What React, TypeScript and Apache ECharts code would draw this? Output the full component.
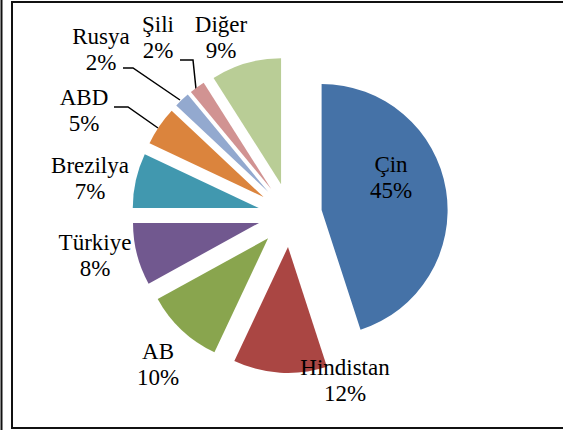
import React, { useEffect, useRef } from "react";
import * as echarts from "echarts";

const categories = ["Çin", "Hindistan", "AB", "Türkiye", "Brezilya", "ABD", "Rusya", "Şili", "Diğer"];
const values = [45, 12, 10, 8, 7, 5, 2, 2, 9];
const colors = ["#4572A7", "#AA4643", "#89A54E", "#71588F", "#4198AF", "#DB843D", "#93A9CF", "#D19392", "#B9CD96"];

// label centres (layout, px)
const labelPos: [number, number][] = [
  [391, 177], [345, 380], [158, 364], [95, 255], [90, 178], [84, 110], [101, 49], [158, 37], [221, 37],
];
// leader lines (layout, px)
const leaders: [number, number][][] = [
  [[114, 107], [128, 107], [158, 128]],
  [[123, 68], [133, 68], [180, 100]],
  [[180, 60], [193, 60], [196, 89]],
];

export default function App() {
  const ref = useRef<HTMLDivElement>(null);
  useEffect(() => {
    if (!ref.current) return;
    const chart = echarts.init(ref.current, null, { renderer: "svg" });
    const total = values.reduce((a, b) => a + b, 0);
    const graphics: any[] = [];
    graphics.push({
      type: "line",
      shape: { x1: 1.5, y1: -5, x2: 1.5, y2: 430 },
      style: { stroke: "#111", lineWidth: 2 },
    });
    graphics.push({
      type: "rect",
      shape: { x: 12, y: 2, width: 620, height: 426 },
      style: { fill: "none", stroke: "#111", lineWidth: 2 },
    });
    categories.forEach((c, i) => {
      graphics.push({
        type: "text",
        x: labelPos[i][0],
        y: labelPos[i][1],
        z: 10,
        style: {
          text: c + "\n" + Math.round((values[i] / total) * 100) + "%",
          align: "center",
          verticalAlign: "middle",
          font: "23px 'Liberation Serif', serif",
          lineHeight: 26,
          fill: "#000",
        },
      });
    });
    leaders.forEach((pts) => {
      graphics.push({
        type: "polyline",
        shape: { points: pts },
        style: { stroke: "#000", lineWidth: 1.5, fill: "none" },
      });
    });
    chart.setOption({
      animation: false,
      backgroundColor: "#fff",
      series: [
        {
          type: "pie",
          center: [290, 215],
          radius: 126,
          startAngle: 90,
          clockwise: true,
          selectedMode: "multiple",
          selectedOffset: 32,
          label: { show: false },
          labelLine: { show: false },
          emphasis: { disabled: true },
          itemStyle: { borderWidth: 0 },
          data: categories.map((c, i) => ({
            name: c,
            value: values[i],
            selected: true,
            itemStyle: { color: colors[i] },
          })),
        },
      ],
      graphic: graphics,
    });
    return () => chart.dispose();
  }, []);
  return (
    <div
      ref={ref}
      style={{ position: "absolute", left: 0, top: 0, width: 563, height: 432 }}
    />
  );
}
